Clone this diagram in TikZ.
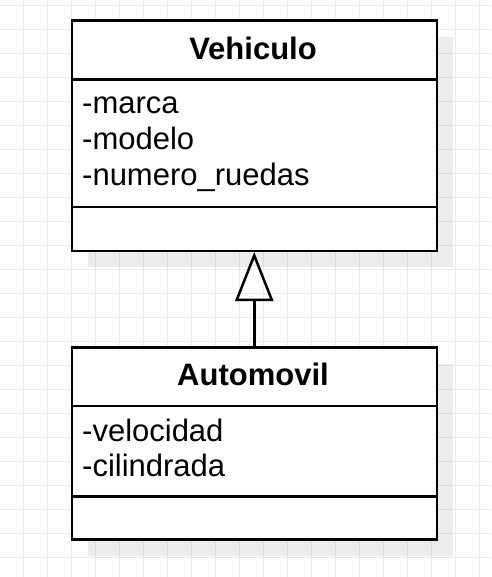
\documentclass[tikz,border=0pt]{standalone}
\usepackage{fontspec}
\setmainfont{Liberation Sans}
\usetikzlibrary{arrows.meta}
\tikzset{
  gridline/.style={draw=black!8, line width=1pt},
  classbox/.style={draw=black, line width=2.5pt, fill=white, rectangle, inner sep=0pt, anchor=north west},
  shadowbox/.style={fill=black, fill opacity=0.07, draw=none, rectangle, inner sep=0pt, anchor=north west},
  sepline/.style={draw=black, line width=2.5pt},
  titletext/.style={font=\fontsize{31}{37}\selectfont\bfseries, anchor=base, inner sep=0pt},
  attrtext/.style={font=\fontsize{31}{37}\selectfont, anchor=base west, inner sep=0pt},
  inherit/.style={draw=black, line width=2.5pt, -{Triangle[open, length=49pt, width=38pt, line width=2.5pt]}}
}
\begin{document}
\begin{tikzpicture}[x=1pt, y=-1pt]
\useasboundingbox (0,0) rectangle (491,577);
\fill[white] (0,0) rectangle (491,577);
% grid
\foreach \gx in {23.5,47.5,...,491} { \draw[gridline] (\gx,0) -- (\gx,577); }
\foreach \gy in {5.5,29.5,...,577} { \draw[gridline] (0,\gy) -- (491,\gy); }
% shadows
\node[shadowbox, minimum width=365pt, minimum height=230pt] (vehsh) at (88,37) {};
\node[shadowbox, minimum width=365pt, minimum height=192pt] (autosh) at (88,363.5) {};
% Vehiculo
\node[classbox, minimum width=365pt, minimum height=230pt] (veh) at (70.5,19.5) {};
\node[titletext] (vehtitle) at (253,60) {Vehiculo};
\draw[sepline] (70.5,79.5) coordinate (vs1a) -- (435.5,79.5) coordinate (vs1b);
\node[attrtext] (vehmarca) at (82,113.3) {-marca};
\node[attrtext] (vehmodelo) at (82,149.5) {-modelo};
\node[attrtext] (vehruedas) at (82,185.7) {-numero\_ruedas};
\draw[sepline] (70.5,207) coordinate (vs2a) -- (435.5,207) coordinate (vs2b);
% Automovil
\node[classbox, minimum width=365pt, minimum height=192pt] (auto) at (70.5,346) {};
\node[titletext] (autotitle) at (253,385.7) {Automovil};
\draw[sepline] (70.5,406) coordinate (as1a) -- (435.5,406) coordinate (as1b);
\node[attrtext] (autovel) at (82,441) {-velocidad};
\node[attrtext] (autocil) at (82,476.7) {-cilindrada};
\draw[sepline] (70.5,496.5) coordinate (as2a) -- (435.5,496.5) coordinate (as2b);
% inheritance
\draw[inherit] (auto.north) -- (veh.south);
\end{tikzpicture}
\end{document}
